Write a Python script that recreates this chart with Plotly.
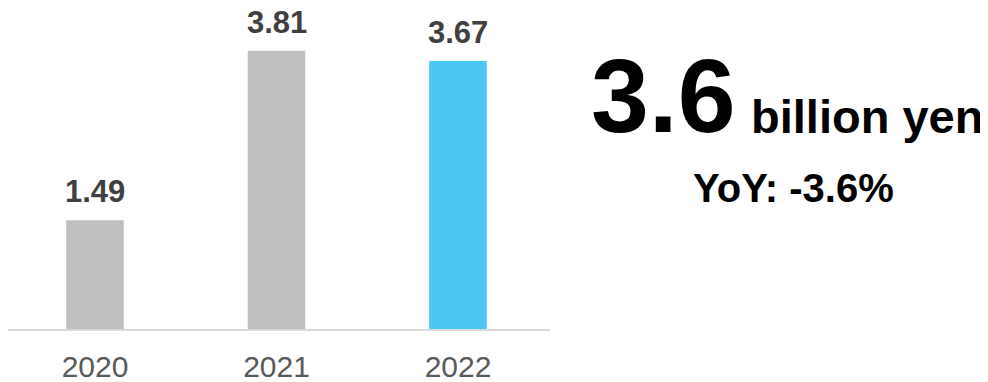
import plotly.graph_objects as go

years = ["2020", "2021", "2022"]
values = [1.49, 3.81, 3.67]
bar_colors = ["#bfbfbf", "#bfbfbf", "#4ac7f2"]
value_labels = ["1.49", "3.81", "3.67"]
headline_value = "3.6"
headline_unit = "billion yen"
yoy_text = "YoY: -3.6%"

# page body has an 8px margin: figure drawn at (8, 8)
OFF = 8
W, H = 988 - OFF, 382 - OFF
FONT = "Arial, 'Liberation Sans', sans-serif"
PX_PER_UNIT = 73.0
BASE = 329 - OFF          # baseline in figure px
CAT_STEP = 181.5
FIRST_CENTER = 95 - OFF
PLOT_RIGHT = 550 - OFF

def px(xs):
    return (xs - OFF) / W

def py(ys):
    return 1 - (ys - OFF) / H

fig = go.Figure()
fig.add_trace(go.Bar(
    x=years, y=values, marker=dict(color=bar_colors, line=dict(width=0)),
    width=0.317, hoverinfo="skip",
))

annotations = []
for i, (v, lab) in enumerate(zip(values, value_labels)):
    annotations.append(dict(
        x=i, y=v, xref="x", yref="y", text=f"<b>{lab}</b>", showarrow=False,
        xanchor="center", yanchor="bottom", yshift=9,
        font=dict(family=FONT, size=31, color="#404040"),
    ))

annotations.append(dict(
    x=px(589), y=py(96), xref="paper", yref="paper", text=f"<b>{headline_value}</b>",
    showarrow=False, xanchor="left", yanchor="middle",
    font=dict(family=FONT, size=104, color="#000000"),
))
annotations.append(dict(
    x=px(749), y=py(116), xref="paper", yref="paper", text=f"<b>{headline_unit}</b>",
    showarrow=False, xanchor="left", yanchor="middle",
    font=dict(family=FONT, size=47, color="#000000"),
))
annotations.append(dict(
    x=px(793.5), y=py(188), xref="paper", yref="paper", text=f"<b>{yoy_text}</b>",
    showarrow=False, xanchor="center", yanchor="middle",
    font=dict(family=FONT, size=40, color="#000000"),
))

x_lo = -FIRST_CENTER / CAT_STEP
x_hi = (PLOT_RIGHT - FIRST_CENTER) / CAT_STEP

fig.update_layout(
    width=W, height=H,
    margin=dict(l=0, r=0, t=0, b=0),
    paper_bgcolor="white", plot_bgcolor="white",
    showlegend=False,
    annotations=annotations,
    xaxis=dict(
        domain=[0, PLOT_RIGHT / W],
        type="category", range=[x_lo, x_hi],
        showgrid=False, zeroline=False,
        showline=True, linecolor="#d9d9d9", linewidth=2,
        ticks="", ticklabelstandoff=10, automargin=False,
        tickfont=dict(family=FONT, size=30, color="#595959"),
        fixedrange=True,
    ),
    yaxis=dict(
        domain=[(H - BASE) / H, 1],
        range=[0, BASE / PX_PER_UNIT],
        visible=False, fixedrange=True, automargin=False,
    ),
)

fig.write_html("out.html")
